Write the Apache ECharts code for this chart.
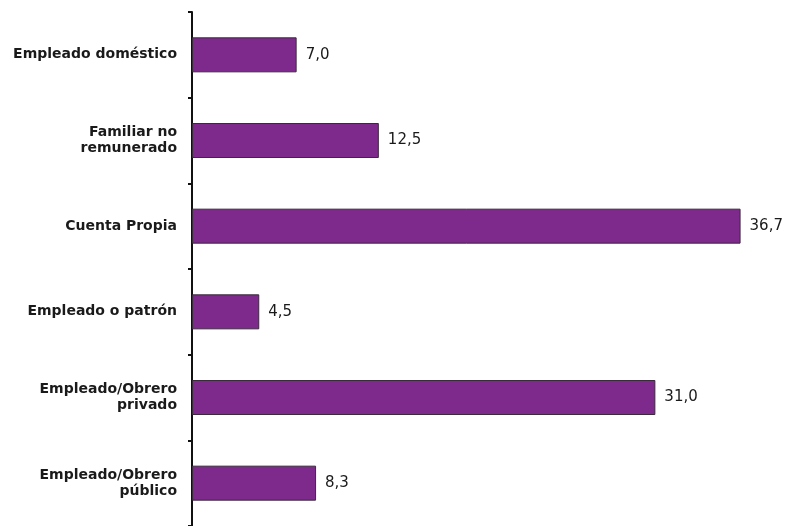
<!DOCTYPE html>
<html><head><meta charset="utf-8">
<script src="https://cdn.jsdelivr.net/npm/echarts@6/dist/echarts.min.js"></script>
<style>html,body{margin:0;padding:0;background:#fff}#c{width:787px;height:526px}</style>
</head><body><div id="c"></div>
<script>
const categories = ["Empleado doméstico", "Familiar no\nremunerado", "Cuenta Propia", "Empleado o patrón", "Empleado/Obrero\nprivado", "Empleado/Obrero\npúblico"];
const values = [7.0, 12.5, 36.7, 4.5, 31.0, 8.3];

const chart = echarts.init(document.getElementById('c'), null, {renderer: 'canvas'});
chart.setOption({
  animation: false,
  grid: {left: 192, top: 12, bottom: 0, width: 568, containLabel: false},
  xAxis: {type: 'value', min: 0, max: 38, show: false},
  yAxis: {
    type: 'category', data: categories, inverse: true,
    axisLine: {show: true, lineStyle: {color: '#111', width: 2}},
    axisTick: {show: true, length: 4, inside: false, alignWithLabel: false, lineStyle: {color: '#111', width: 2}},
    axisLabel: {color: '#1a1a1a', fontFamily: 'DejaVu Sans', fontWeight: 'bold', fontSize: 14, lineHeight: 16, margin: 15, align: 'right'},
    splitLine: {show: false}
  },
  series: [{
    type: 'bar', data: values, barWidth: 35,
    itemStyle: {color: '#7E2A8D', borderColor: '#3A2A3C', borderWidth: 1},
    label: {show: true, position: 'right', distance: 9, color: '#1a1a1a', fontFamily: 'DejaVu Sans', fontSize: 15,
      formatter: p => p.value.toFixed(1).replace('.', ',')}
  }]
});
</script></body></html>
